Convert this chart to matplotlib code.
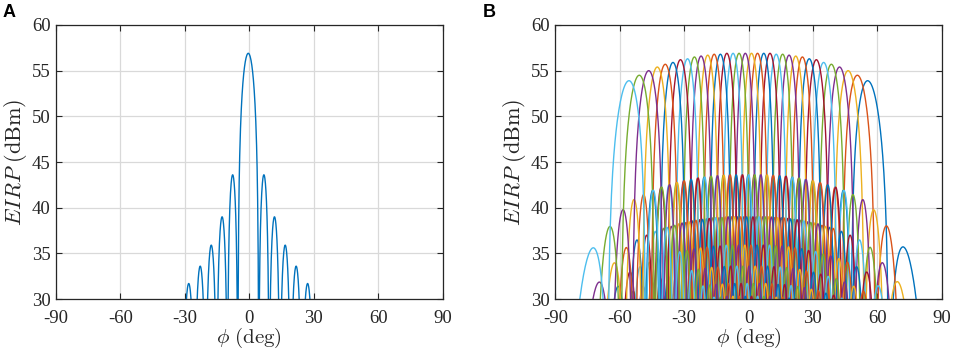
import numpy as np
import matplotlib
matplotlib.use("Agg")
import matplotlib.pyplot as plt

# ---------------- data ----------------
PHI_TICKS = [-90, -60, -30, 0, 30, 60, 90]
EIRP_TICKS = [30, 35, 40, 45, 50, 55, 60]

# Panel A: single broadside beam, nulls (deg) and lobe peaks (dBm) between them
A_NULL_DEG = [-31.0, -25.5, -20.3, -15.2, -10.2, -5.35, 4.35, 9.2, 14.2, 19.2, 24.4, 29.9]
A_LOBE_PEAK_EIRP = [31.7, 33.6, 35.9, 39.0, 43.6, 56.9, 43.6, 39.0, 35.9, 33.6, 31.7]

# Panel B: steered beams (peak angle in deg, peak EIRP in dBm), left to right
B_BEAM_PEAK_DEG = [-55.7, -50.9, -46.5, -42.5, -38.8, -35.2, -31.7, -28.4, -25.2, -22.1,
                   -19.0, -16.0, -13.1, -10.1, -7.2, -4.4, -1.5, 1.4, 4.2, 7.1,
                   10.0, 12.9, 15.9, 18.9, 22.0, 25.1, 28.3, 31.6, 35.0, 38.6,
                   42.4, 46.4, 50.7, 55.5]
B_BEAM_PEAK_EIRP = [53.9, 54.5, 55.0, 55.4, 55.7, 55.9, 56.2, 56.3, 56.5, 56.6,
                    56.7, 56.8, 56.8, 56.9, 56.9, 56.9, 56.9, 56.9, 56.9, 56.9,
                    56.9, 56.8, 56.8, 56.7, 56.6, 56.5, 56.3, 56.2, 55.9, 55.7,
                    55.4, 55.0, 54.5, 53.9]
# envelope beyond the outermost beams (from the outer sidelobes at about +-72 deg)
B_EDGE_DEG = [-90.0, -72.0, 72.0, 90.0]
B_EDGE_EIRP = [44.0, 49.0, 49.0, 44.0]
# sidelobe levels relative to the main lobe, by lobe order
B_SIDELOBE_DB = [0.0, -13.3, -17.9, -21.0, -23.3, -25.2, -26.6, -27.8, -28.8]
# null spacing in sin(phi)
B_NULL_SPACING_U = 0.0845

MATLAB_COLORS = ["#0072BD", "#D95319", "#EDB120", "#7E2F8E",
                 "#77AC30", "#4DBEEE", "#A2142F"]

# ---------------- drawing helpers ----------------
def lobe(u_a, u_b, peak_db, n=80):
    t = np.linspace(0.0, 1.0, n)
    u = u_a + (u_b - u_a) * t
    amp = np.sin(np.pi * t)
    db = peak_db + 20 * np.log10(np.maximum(amp, 1e-6))
    keep = (u >= -1) & (u <= 1)
    return np.degrees(np.arcsin(u[keep])), db[keep]


plt.rcParams["font.family"] = ["Liberation Serif", "DejaVu Serif"]
plt.rcParams["mathtext.fontset"] = "cm"
plt.rcParams["axes.unicode_minus"] = False

fig = plt.figure(figsize=(9.57, 3.55), dpi=100)
ax1 = fig.add_axes([0.0585, 0.1577, 0.4041, 0.7719])
ax2 = fig.add_axes([0.5803, 0.1577, 0.4037, 0.7719])

# Panel A
u_nulls = np.sin(np.radians(A_NULL_DEG))
xs, ys = [], []
for i, pk in enumerate(A_LOBE_PEAK_EIRP):
    x, y = lobe(u_nulls[i], u_nulls[i + 1], pk)
    xs.append(x)
    ys.append(y)
ax1.plot(np.concatenate(xs), np.concatenate(ys), color=MATLAB_COLORS[0], lw=1.0)

# Panel B
env_deg = np.array([B_EDGE_DEG[0], B_EDGE_DEG[1]] + B_BEAM_PEAK_DEG + [B_EDGE_DEG[2], B_EDGE_DEG[3]])
env_db = np.array([B_EDGE_EIRP[0], B_EDGE_EIRP[1]] + B_BEAM_PEAK_EIRP + [B_EDGE_EIRP[2], B_EDGE_EIRP[3]])
D = B_NULL_SPACING_U
nb = len(B_BEAM_PEAK_DEG)
for order, k in enumerate(range(nb - 1, -1, -1)):
    uk = np.sin(np.radians(B_BEAM_PEAK_DEG[k]))
    segs = []
    for j in range(len(B_SIDELOBE_DB) - 1, 0, -1):
        a, b = uk - (j + 1) * D, uk - j * D
        if b <= -1:
            continue
        uc = np.clip(0.5 * (a + b), -1, 1)
        pk = np.interp(np.degrees(np.arcsin(uc)), env_deg, env_db) + B_SIDELOBE_DB[j]
        segs.append(lobe(a, b, pk))
    segs.append(lobe(uk - D, uk + D, B_BEAM_PEAK_EIRP[k]))
    for j in range(1, len(B_SIDELOBE_DB)):
        a, b = uk + j * D, uk + (j + 1) * D
        if a >= 1:
            continue
        uc = np.clip(0.5 * (a + b), -1, 1)
        pk = np.interp(np.degrees(np.arcsin(uc)), env_deg, env_db) + B_SIDELOBE_DB[j]
        segs.append(lobe(a, b, pk))
    x = np.concatenate([s[0] for s in segs])
    y = np.concatenate([s[1] for s in segs])
    ax2.plot(x, y, color=MATLAB_COLORS[order % 7], lw=1.0)

for ax in (ax1, ax2):
    ax.set_xlim(-90, 90)
    ax.set_ylim(30, 60)
    ax.set_xticks(PHI_TICKS)
    ax.set_yticks(EIRP_TICKS)
    ax.grid(True, color="#d9d9d9", lw=0.9)
    ax.set_axisbelow(True)
    ax.tick_params(direction="in", length=4, width=0.8, top=True, right=True,
                   labelsize=13.5, colors="#262626")
    ax.tick_params(axis="x", pad=8)
    ax.tick_params(axis="y", pad=4)
    for s in ax.spines.values():
        s.set_color("#262626")
        s.set_linewidth(0.9)
    ax.set_xlabel(r"$\phi\ \mathrm{(deg)}$", fontsize=15, color="#262626", labelpad=-1)
    ax.set_ylabel(r"$EIRP\ \mathrm{(dBm)}$", fontsize=16, color="#262626", labelpad=2)

fig.text(0.003, 0.953, "A", fontsize=13, fontweight="bold", family="Liberation Sans")
fig.text(0.504, 0.953, "B", fontsize=13, fontweight="bold", family="Liberation Sans")

fig.savefig("out.png", dpi=100)
